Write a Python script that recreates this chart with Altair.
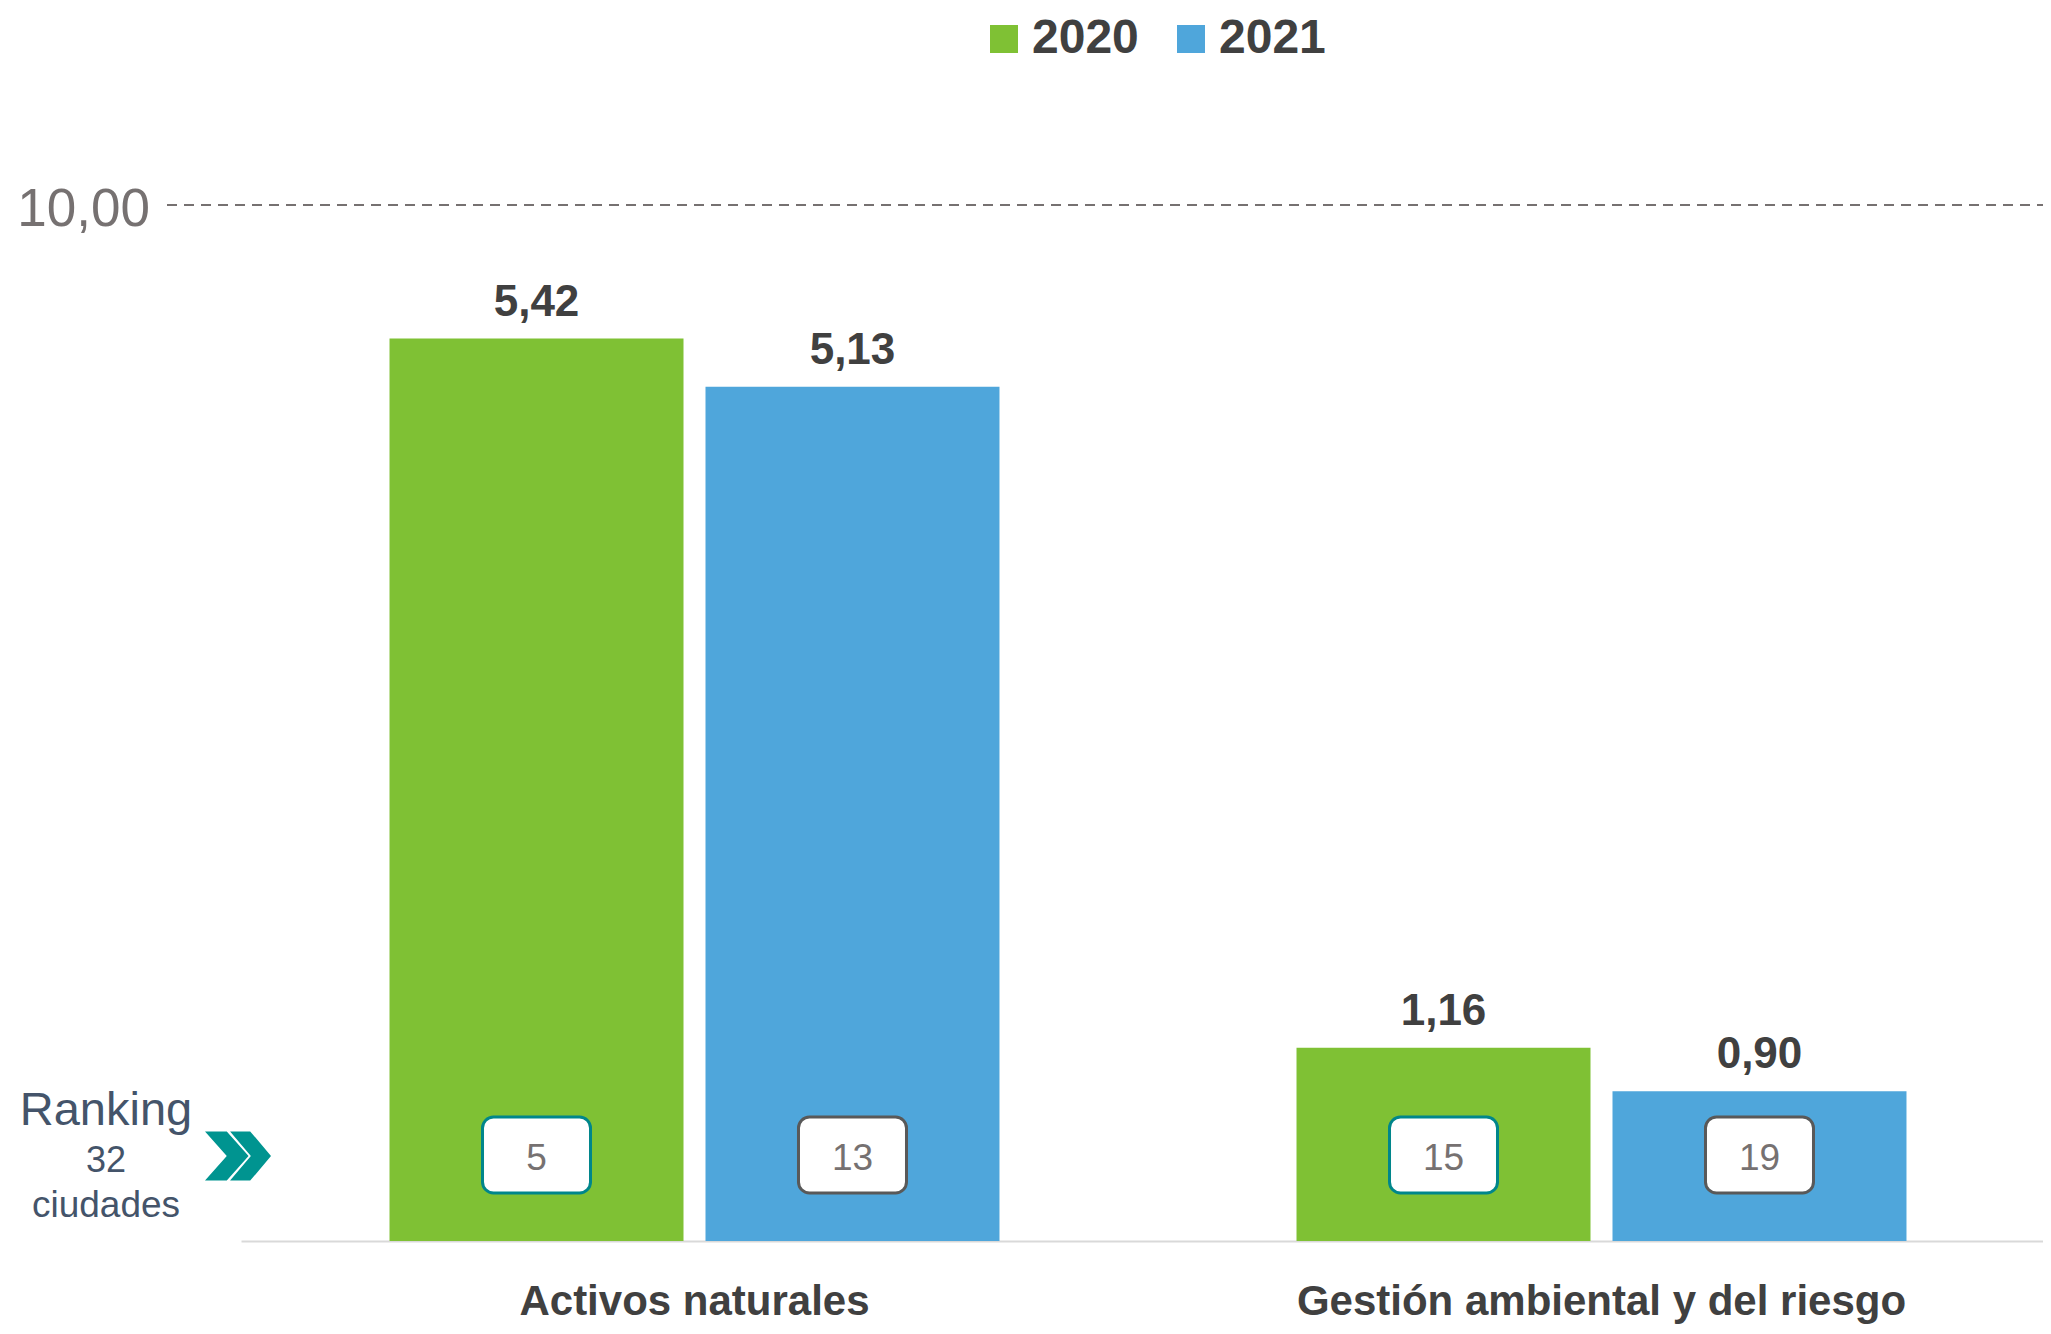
import altair as alt
import pandas as pd

categories = ["Activos naturales", "Gestión ambiental y del riesgo"]
years = ["2020", "2021"]
values_2020 = [5.42, 1.16]
values_2021 = [5.13, 0.90]
rank_2020 = [5, 15]
rank_2021 = [13, 19]
reference_value = [10.0]
ranking_lines = ["Ranking", "32", "ciudades"]

rows = []
for i, c in enumerate(categories):
    rows.append({"cat": c, "year": "2020", "value": values_2020[i], "rank": rank_2020[i]})
    rows.append({"cat": c, "year": "2021", "value": values_2021[i], "rank": rank_2021[i]})
df = pd.DataFrame(rows)
df["label"] = df["value"].map(lambda v: f"{v:.2f}".replace(".", ","))
df["rank_label"] = df["rank"].astype(str)

ref_df = pd.DataFrame({"ref": reference_value,
                       "ref_label": [f"{v:.2f}".replace(".", ",") for v in reference_value]})

GREEN = "#7FC134"
BLUE = "#4FA6DB"
SANS = "Liberation Sans, Arial, sans-serif"

W, H = 1802, 1036
YMAX = 6.222

x_enc = alt.X("cat:N", sort=categories,
              scale=alt.Scale(domain=categories, range=[0, 1814], paddingInner=0, paddingOuter=0),
              axis=alt.Axis(title=None, labelAngle=0, ticks=False, domain=True,
                            domainColor="#D9D9D9", domainWidth=2,
                            labelFont=SANS, labelFontSize=42, labelFontWeight="bold",
                            labelColor="#404040", labelBaseline="alphabetic",
                            labelPadding=73, labelLimit=1000))
xo_enc = alt.XOffset("year:N", sort=years,
                     scale=alt.Scale(domain=years, paddingInner=0.0696, paddingOuter=0.47))
y_scale = alt.Scale(domain=[0, YMAX], nice=False, zero=True)

bars = alt.Chart(df).mark_bar().encode(
    x=x_enc, xOffset=xo_enc,
    y=alt.Y("value:Q", scale=y_scale, axis=None),
    color=alt.Color("year:N", sort=years,
                    scale=alt.Scale(domain=years, range=[GREEN, BLUE]),
                    legend=alt.Legend(title=None, orient="none", legendX=739, legendY=-190,
                                      direction="horizontal", symbolType="square",
                                      symbolSize=784, symbolStrokeWidth=0,
                                      labelFont=SANS, labelFontSize=48, labelFontWeight="bold",
                                      labelColor="#404040", labelOffset=4, columnPadding=28,
                                      padding=0)),
)

value_labels = alt.Chart(df).mark_text(
    font=SANS, fontSize=44, fontWeight="bold", color="#404040",
    baseline="alphabetic", dy=-23
).encode(
    x=x_enc, xOffset=xo_enc,
    y=alt.Y("value:Q", scale=y_scale, axis=None),
    text="label:N",
)

badges = alt.Chart(df).mark_bar(
    width=108, fill="white", strokeWidth=3, cornerRadius=11
).encode(
    x=x_enc, xOffset=xo_enc,
    y=alt.value(912), y2=alt.value(988),
    stroke=alt.Stroke("year:N", sort=years,
                      scale=alt.Scale(domain=years, range=["#00868B", "#595959"]),
                      legend=None),
)

badge_text = alt.Chart(df).mark_text(
    font=SANS, fontSize=37, color="#767171", baseline="alphabetic"
).encode(
    x=x_enc, xOffset=xo_enc,
    y=alt.value(965),
    text="rank_label:N",
)

rank_df = pd.DataFrame({"line": ranking_lines,
                        "size": [47, 36, 37],
                        "ypos": [920, 967, 1012]})
ranking = alt.Chart(rank_df).mark_text(
    font=SANS, color="#44546A", baseline="alphabetic", align="center"
).encode(
    x=alt.value(-135),
    y=alt.Y("ypos:Q", scale=alt.Scale(domain=[0, H], range=[0, H]), axis=None),
    text="line:N",
    size=alt.Size("size:Q", scale=None, legend=None),
)

chevron_path = ("M-1,-0.746L-0.34,-0.746L0.32,0L-0.34,0.746L-1,0.746L-0.34,0Z "
                "M-0.24,-0.746L0.37,-0.746L1,0L0.37,0.746L-0.24,0.746L0.39,0Z")
chevron = alt.Chart(ref_df).mark_point(
    shape=chevron_path, size=4356, filled=True, fill="#009490", opacity=1, strokeWidth=0
).encode(x=alt.value(-3), y=alt.value(951))

ref_scale = alt.Scale(domain=[0, 10], nice=False)
ref_rule = alt.Chart(ref_df).mark_rule(
    color="#767171", strokeWidth=2, strokeDash=[10, 7]
).encode(
    x=alt.value(-74), x2=alt.value(W),
    y=alt.Y("ref:Q", scale=ref_scale, axis=None),
)
ref_text = alt.Chart(ref_df).mark_text(
    font=SANS, fontSize=53, color="#767171", align="right", baseline="middle", dy=5
).encode(
    x=alt.value(-91),
    y=alt.Y("ref:Q", scale=ref_scale, axis=None),
    text="ref_label:N",
)

main = alt.layer(bars, value_labels, badges, badge_text)
chart = alt.layer(main, alt.layer(ref_rule, ref_text), ranking, chevron).resolve_scale(
    y="independent", size="independent"
).properties(
    width=W, height=H,
    autosize=alt.AutoSizeParams(type="none"),
    padding={"left": 233, "top": 197, "right": 0, "bottom": 85},
).configure_view(stroke=None)

chart.save("out.html", embed_options={"renderer": "svg", "actions": False})
